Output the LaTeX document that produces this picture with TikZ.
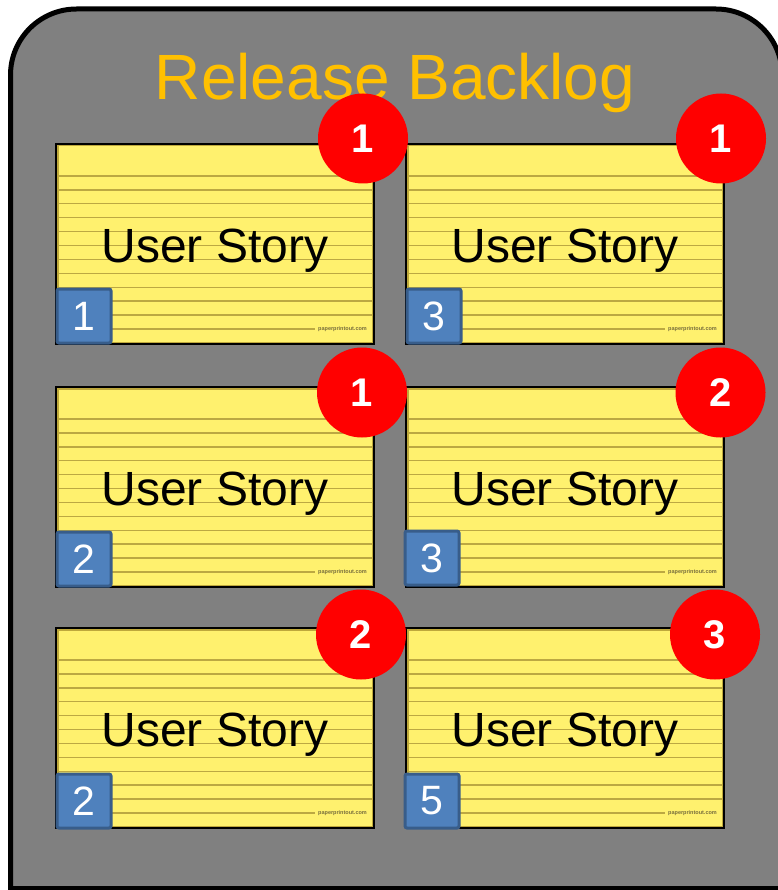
\documentclass[tikz,border=0pt]{standalone}
\usepackage{fontspec}
\setmainfont{Liberation Sans}
\usetikzlibrary{calc}

\definecolor{panelgray}{RGB}{128,128,128}
\definecolor{titlegold}{RGB}{255,192,0}
\definecolor{cardyellow}{RGB}{255,241,110}
\definecolor{cardrim}{RGB}{190,168,60}
\definecolor{ruleline}{RGB}{188,168,66}
\definecolor{tagblue}{RGB}{79,129,189}
\definecolor{tagedge}{RGB}{56,93,138}
\definecolor{badgered}{RGB}{255,0,0}
\definecolor{printmark}{RGB}{120,110,60}

\tikzset{
  panelline/.style={draw=black, line width=5pt, fill=panelgray},
  titletext/.style={text=titlegold, font=\fontsize{64}{64}\selectfont, inner sep=0pt},
  cardbox/.style={draw=black, line width=2pt, fill=cardyellow, minimum width=318pt, minimum height=200pt, inner sep=0pt, anchor=north west},
  cardring/.style={draw=cardrim, line width=1.8pt},
  ruled/.style={draw=ruleline, line width=1.4pt},
  storytext/.style={font=\fontsize{48}{48}\selectfont, inner sep=0pt, anchor=base},
  printtext/.style={text=printmark, font=\fontsize{5.5}{5.5}\selectfont\bfseries, inner sep=0pt, anchor=east},
  tagbox/.style={draw=tagedge, line width=3pt, fill=tagblue, rounded corners=2pt, minimum size=54pt, inner sep=0pt, anchor=south west, text=white, font=\fontsize{41}{41}\selectfont},
  badge/.style={circle, fill=badgered, minimum size=90pt, inner sep=0pt, text=white, font=\fontsize{40}{40}\selectfont\bfseries}
}

% one index card: name, top-left x, top-left y
\newcommand{\storycard}[3]{%
  \node[cardbox] (#1) at (#2,#3) {};
  \draw[cardring] ($(#1.north west)+(2.6,2.6)$) rectangle ($(#1.south east)+(-2.6,-2.6)$);
  \foreach \k in {0,...,10}{
    \draw[ruled] ($(#1.north west)+(3.5,33+\k*13.9)$) -- ($(#1.north east)+(-3.5,33+\k*13.9)$);
  }
  \draw[ruled] ($(#1.north west)+(3.5,33+11*13.9)$) -- ($(#1.north east)+(-60,33+11*13.9)$);
  \node[printtext] (#1-mark) at ($(#1.north east)+(-8,33+11*13.9)$) {paperprintout.com};
  \node[storytext] (#1-text) at ($(#1.north)+(0,119)$) {User Story};
}

\begin{document}
\begin{tikzpicture}[x=1pt, y=-1pt]
  \useasboundingbox (0,0) rectangle (777,890);

  % backlog panel: rounded top, square bottom, right side running off the page
  \path[panelline, rounded corners=66pt] (10.5,1000) -- (10.5,9) -- (782,9) -- (782,1000) -- cycle;
  \draw[line width=5pt] (8,888) -- (784,888);

  \node[titletext, anchor=base] (title) at (395,100) {Release Backlog};

  % cards
  \storycard{card1}{55}{143}
  \storycard{card2}{405}{143}
  \storycard{card3}{55}{386}
  \storycard{card4}{405}{386}
  \storycard{card5}{55}{627}
  \storycard{card6}{405}{627}

  % size tags
  \node[tagbox] (tag1) at ($(card1.south west)+(0.5,-0.5)$) {1};
  \node[tagbox] (tag2) at ($(card2.south west)+(0.5,-0.5)$) {3};
  \node[tagbox] (tag3) at ($(card3.south west)+(0.5,-0.5)$) {2};
  \node[tagbox] (tag4) at ($(card4.south west)+(-1.5,-1.5)$) {3};
  \node[tagbox] (tag5) at ($(card5.south west)+(0.5,0.5)$) {2};
  \node[tagbox] (tag6) at ($(card6.south west)+(-1.5,0.5)$) {5};

  % priority badges
  \node[badge] (badge1) at (363,138.5) {1};
  \node[badge] (badge2) at (721,138.5) {1};
  \node[badge] (badge3) at (362,392.5) {1};
  \node[badge] (badge4) at (720.5,392.5) {2};
  \node[badge] (badge5) at (361,634.5) {2};
  \node[badge] (badge6) at (715,634.5) {3};
\end{tikzpicture}
\end{document}
